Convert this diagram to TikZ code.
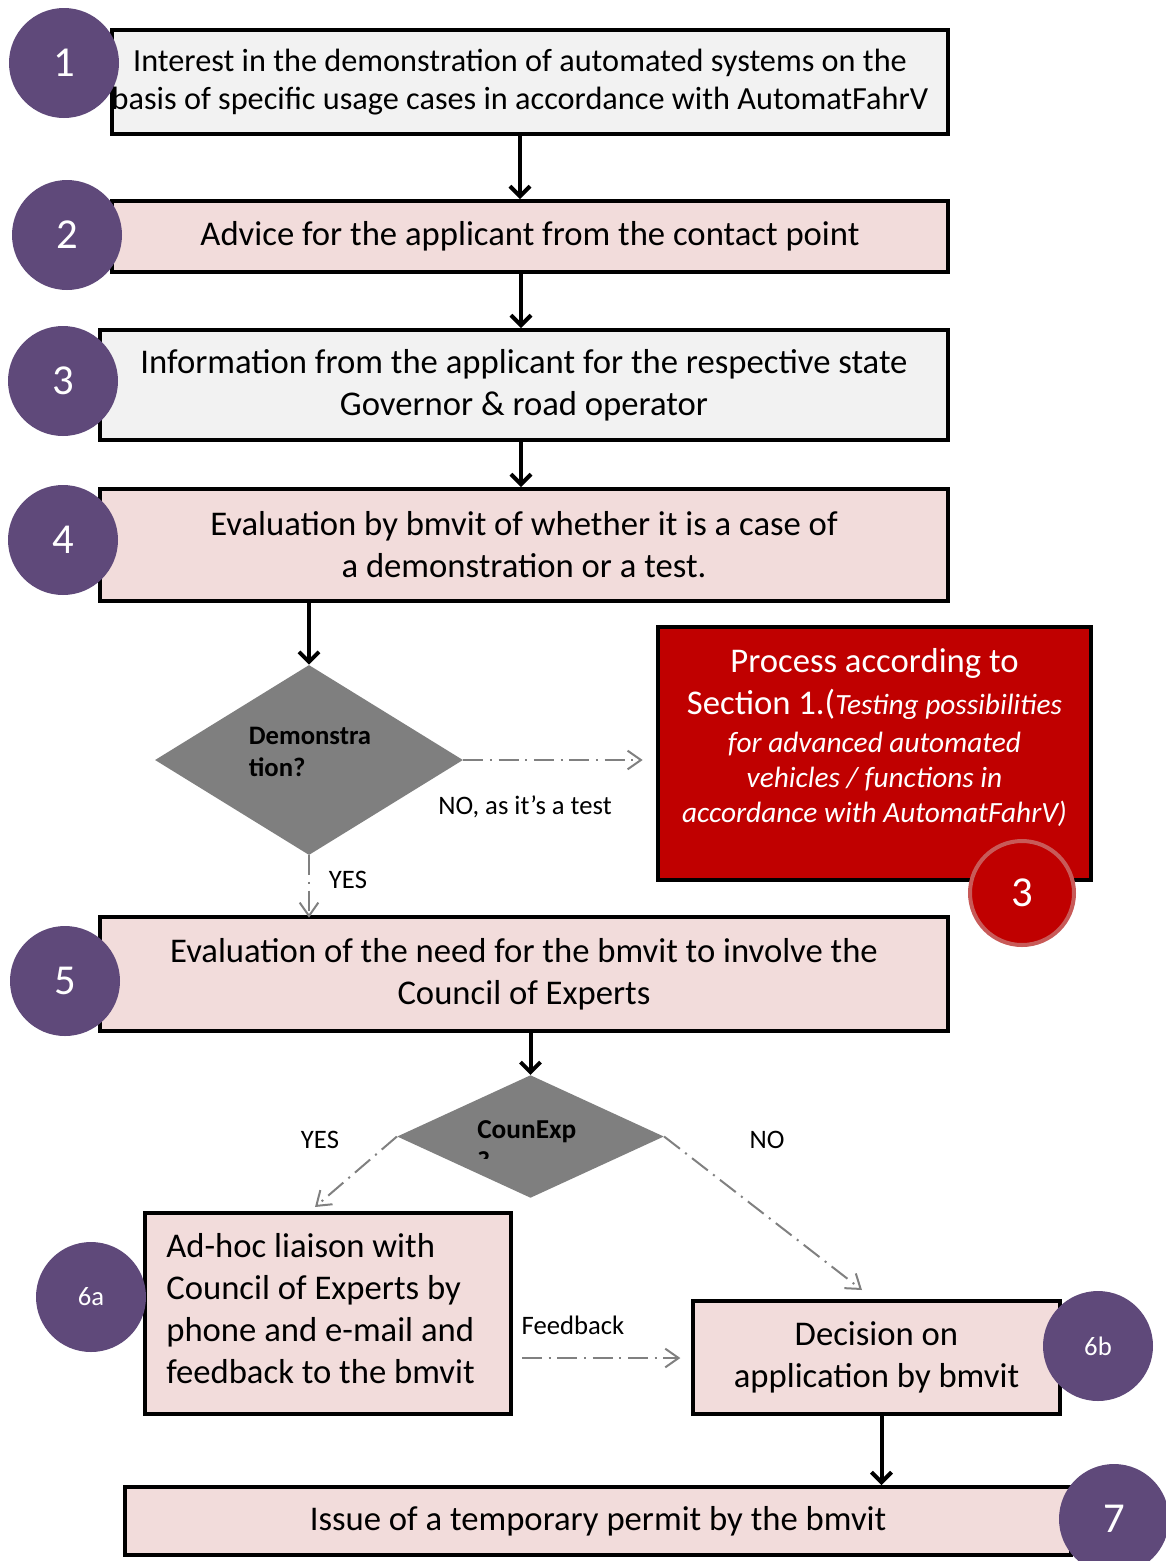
\documentclass[tikz,border=0pt]{standalone}
\usepackage{fontspec}
\setmainfont{Carlito}
\usetikzlibrary{shapes.geometric,arrows.meta}

\definecolor{stepPurple}{HTML}{5F497A}
\definecolor{boxPink}{HTML}{F2DCDB}
\definecolor{boxGray}{HTML}{F2F2F2}
\definecolor{diaGray}{HTML}{7F7F7F}
\definecolor{procRed}{HTML}{C00000}
\definecolor{ringRed}{HTML}{C85A58}
\definecolor{lineGray}{HTML}{808080}

\tikzset{
  stepbox/.style={draw=black,line width=3pt,inner sep=0pt,align=center,
    font=\fontsize{26}{31.5}\selectfont},
  boxtext/.style={inner sep=0pt,font=\fontsize{26}{31.5}\selectfont},
  numcircle/.style={circle,fill=stepPurple,text=white,inner sep=0pt,
    minimum size=82.5pt,font=\fontsize{32}{38}\selectfont},
  decision/.style={diamond,fill=diaGray,inner sep=0pt},
  flowarrow/.style={line width=3pt,-{Straight Barb[length=7.5pt,width=15pt]}},
  altarrow/.style={draw=lineGray,line width=1.5pt,
    dash pattern=on 15pt off 5pt on 1.5pt off 5pt,
    -{Straight Barb[length=10pt,width=14pt,line width=1.5pt]}},
  lbl/.style={inner sep=0pt,font=\fontsize{20}{24}\selectfont},
}

\begin{document}
\begin{tikzpicture}[x=0.75pt,y=0.75pt,yscale=-1,xscale=1]
        \useasboundingbox (0,0) rectangle (1166,1561);

        %Shape: Boxes
        \node[stepbox,fill=boxGray,minimum width=627pt,minimum height=78pt] (box1) at (530,82) {};
        \node[boxtext,align=center,font=\fontsize{24.2}{28.5}\selectfont] (box1text) at (520,82)
          {Interest in the demonstration of automated systems on the\\basis of specific usage cases in accordance with AutomatFahrV};
        \node[stepbox,fill=boxPink,minimum width=627pt,minimum height=53.25pt] (box2) at (530,236.5)
          {Advice for the applicant from the contact point};
        \node[stepbox,fill=boxGray,minimum width=636pt,minimum height=82.5pt] (box3) at (524,385)
          {Information from the applicant for the respective state\\Governor \& road operator};
        \node[stepbox,fill=boxPink,minimum width=636pt,minimum height=84pt] (box4) at (524,545)
          {Evaluation by bmvit of whether it is a case of\\a demonstration or a test.};
        \node[stepbox,fill=procRed,minimum width=324.75pt,minimum height=189.75pt] (proc) at (874.5,753.5) {};
        \node[boxtext,align=center,text=white] (proctext) at (874.5,737)
          {Process according to\\
           Section 1.({\fontsize{22}{26}\selectfont\itshape Testing possibilities}\\[-3pt]
           {\fontsize{22}{26}\selectfont\itshape for advanced automated}\\[-5.25pt]
           {\fontsize{22}{26}\selectfont\itshape vehicles / functions in}\\[-5.25pt]
           {\fontsize{22}{26}\selectfont\itshape accordance with AutomatFahrV)}};
        \node[stepbox,fill=boxPink,minimum width=636pt,minimum height=85.5pt] (box5) at (524,974)
          {Evaluation of the need for the bmvit to involve the\\Council of Experts};
        \node[stepbox,fill=boxPink,minimum width=274.5pt,minimum height=150.75pt] (box6a) at (328,1313.5) {};
        \node[boxtext,align=left] (box6atext) at (320.5,1309)
          {Ad-hoc liaison with\\Council of Experts by\\phone and e-mail and\\feedback to the bmvit};
        \node[stepbox,fill=boxPink,minimum width=275.25pt,minimum height=84.75pt] (box6b) at (876.5,1357.5)
          {Decision on\\application by bmvit};
        \node[stepbox,fill=boxPink,minimum width=709.5pt,minimum height=51pt] (box7) at (598,1521)
          {Issue of a temporary permit by the bmvit};

        %Shape: Diamonds
        \node[decision,minimum width=231pt,minimum height=142.5pt] (dem) at (309,760) {};
        \node[align=left,inner sep=0pt,font=\fontsize{20}{24}\selectfont\bfseries] (demtext) at (310,752)
          {Demonstra\\tion?};
        \node[decision,minimum width=200pt,minimum height=92pt] (cexp) at (530.5,1136.5) {};
        \begin{scope}
          \clip (440,1100) rectangle (620,1158);
          \node[align=left,inner sep=0pt,anchor=west,font=\fontsize{20.5}{24}\selectfont\bfseries] (cexptext) at (477,1146)
            {CounExp\\?};
        \end{scope}

        %Shape: Step numbers
        \node[numcircle] (c1) at (64,63) {1};
        \node[numcircle] (c2) at (67,235) {2};
        \node[numcircle] (c3) at (63,381) {3};
        \node[numcircle] (c4) at (63,540) {4};
        \node[numcircle] (c5) at (65,981) {5};
        \node[numcircle,font=\fontsize{20}{24}\selectfont] (c6a) at (91,1297) {6a};
        \node[numcircle,font=\fontsize{20}{24}\selectfont] (c6b) at (1098,1346) {6b};
        \node[numcircle] (c7) at (1114,1519) {7};
        \node[numcircle,fill=procRed,draw=ringRed,line width=3pt,minimum size=78pt] (r3) at (1022,893) {3};

        %Connectors: main flow
        \draw[flowarrow] ([xshift=-7.5pt]box1.south) -- ([xshift=-7.5pt]box2.north);
        \draw[flowarrow] ([xshift=-6.75pt]box2.south) -- ([xshift=-2.25pt]box3.north);
        \draw[flowarrow] ([xshift=-2.25pt]box3.south) -- ([xshift=-2.25pt]box4.north);
        \draw[flowarrow] (box4.south -| dem.north) -- (dem.north);
        \draw[flowarrow] (box5.south -| cexp.north) -- (cexp.north);
        \draw[flowarrow] ([xshift=3.75pt]box6b.south) -- ([xshift=3.75pt]box6b.south |- box7.north);

        %Connectors: branches
        \coordinate (yesend) at (315,1207);
        \coordinate (noend) at (862,1290);
        \coordinate (fbstart) at (522,1358);
        \draw[altarrow] (dem.east) -- ([xshift=-10pt]dem.east -| proc.west);
        \draw[altarrow] (dem.south) -- ([yshift=2pt]dem.south |- box5.north);
        \draw[altarrow] (cexp.west) -- (yesend);
        \draw[altarrow] (cexp.east) -- (noend);
        \draw[altarrow] (fbstart) -- ([xshift=-8pt]fbstart -| box6b.west);

        % Text Node
        \node[lbl] (notest) at (525,807) {NO, as it’s a test};
        \node[lbl] (yesdem) at (348,880) {YES};
        \node[lbl] (yescexp) at (320,1140) {YES};
        \node[lbl] (nocexp) at (767,1140) {NO};
        \node[lbl] (fb) at (573,1325) {Feedback};
\end{tikzpicture}
\end{document}
